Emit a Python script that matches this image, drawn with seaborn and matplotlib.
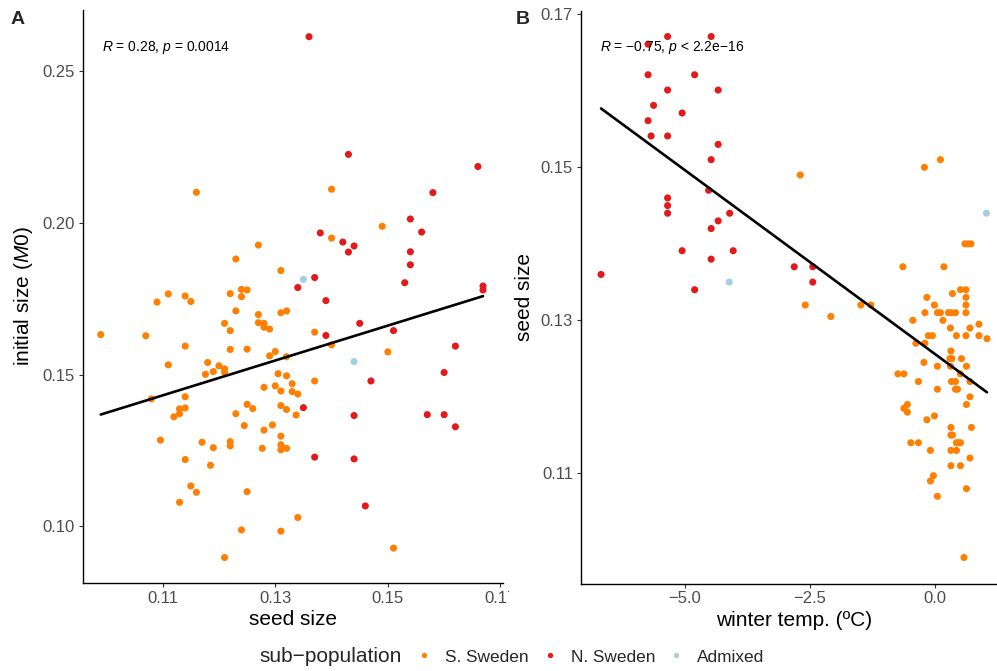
import matplotlib
matplotlib.use("Agg")
import matplotlib.pyplot as plt
import pandas as pd
import seaborn as sns
from matplotlib.lines import Line2D
from matplotlib.transforms import Bbox, TransformedBbox

# ---- Panel A: seed size vs initial size (M0) ----
seed_a = [
    0.116, 0.140, 0.127, 0.123, 0.131, 0.111, 0.114, 0.109, 0.115, 0.122,
    0.124, 0.125, 0.124, 0.123, 0.127, 0.131, 0.132, 0.127, 0.128, 0.128,
    0.129, 0.121, 0.122, 0.099, 0.107, 0.114, 0.122, 0.125, 0.129, 0.130,
    0.132, 0.111, 0.118, 0.120, 0.121, 0.121, 0.119, 0.1176, 0.1305, 0.132,
    0.149, 0.140, 0.137, 0.140, 0.150, 0.137, 0.108, 0.114, 0.113, 0.114,
    0.113, 0.112, 0.128, 0.130, 0.131, 0.133, 0.133, 0.134, 0.125, 0.126,
    0.123, 0.131, 0.132, 0.1337, 0.1245, 0.1295, 0.128, 0.131, 0.1096, 0.117,
    0.119, 0.122, 0.122, 0.1277, 0.131, 0.131, 0.132, 0.114, 0.1185, 0.115,
    0.116, 0.113, 0.125, 0.124, 0.131, 0.121, 0.134, 0.151,
    0.136, 0.143, 0.158, 0.166, 0.134, 0.154, 0.138, 0.156, 0.142, 0.144,
    0.143, 0.154, 0.154, 0.137, 0.153, 0.1669, 0.1669, 0.139, 0.145, 0.139,
    0.151, 0.162, 0.160, 0.147, 0.135, 0.144, 0.157, 0.160, 0.162, 0.137,
    0.144, 0.146,
    0.135, 0.144,
]
m0_a = [
    0.2101, 0.2111, 0.1927, 0.1881, 0.1843, 0.1766, 0.1759, 0.1739, 0.1741, 0.1767,
    0.1781, 0.1779, 0.1757, 0.1710, 0.1698, 0.1704, 0.1710, 0.1671, 0.1669, 0.1656,
    0.1650, 0.1669, 0.1645, 0.1632, 0.1628, 0.1594, 0.1583, 0.1584, 0.1562, 0.1576,
    0.1559, 0.1532, 0.1540, 0.1529, 0.1519, 0.1507, 0.1510, 0.1501, 0.1503, 0.1496,
    0.1989, 0.1950, 0.1640, 0.1598, 0.1575, 0.1479, 0.1420, 0.1427, 0.1387, 0.1390,
    0.1371, 0.1361, 0.1458, 0.1463, 0.1446, 0.1470, 0.1444, 0.1436, 0.1402, 0.1388,
    0.1371, 0.1398, 0.1385, 0.1367, 0.1332, 0.1334, 0.1317, 0.1297, 0.1284, 0.1277,
    0.1259, 0.1279, 0.1265, 0.1257, 0.1269, 0.1252, 0.1257, 0.1220, 0.1201, 0.1133,
    0.1112, 0.1079, 0.1114, 0.0988, 0.0984, 0.0897, 0.1029, 0.0928,
    0.2614, 0.2226, 0.2100, 0.2186, 0.1787, 0.2013, 0.1967, 0.1970, 0.1937, 0.1924,
    0.1904, 0.1905, 0.1862, 0.1820, 0.1803, 0.1792, 0.1779, 0.1744, 0.1669, 0.1629,
    0.1645, 0.1594, 0.1507, 0.1479, 0.1391, 0.1365, 0.1368, 0.1368, 0.1328, 0.1228,
    0.1222, 0.1067,
    0.1814, 0.1543,
]
pop_a = ["S. Sweden"] * 88 + ["N. Sweden"] * 32 + ["Admixed"] * 2

# ---- Panel B: winter temperature vs seed size ----
temp_b = [
    -5.73, -5.34, -4.47, -5.73, -4.80, -5.34, -4.33, -5.62, -5.05, -5.73,
    -5.67, -5.34, -4.33, -4.47, -4.52, -5.34, -5.34, -5.34, -4.10, -4.33,
    -4.47, -5.05, -4.03, -4.47, -6.67, -4.80, -2.81, -2.44, -2.44,
    -4.11, 1.03,
    -2.69, -2.59, -2.08, -1.48, -1.28, -0.21, 0.11, 0.60, 0.66, 0.72,
    -0.64, 0.18, 0.51, 0.62, 0.35, -0.16, 0.62, -0.01, 0.62, -0.20,
    0.05, 0.11, 0.27, 0.33, 0.41, 0.62, -0.44, 0.16, 0.31, 0.70,
    0.88, -0.13, -0.05, 0.43, 0.62, 0.88, 1.04, -0.38, -0.20, 0.32,
    0.30, 0.34, 0.53, -0.22, 0.05, 0.31, 0.63, 0.51, -0.74, -0.62,
    0.70, -0.33, 0.33, 0.41, 0.41, 0.45, 0.05, 0.70, 0.63, -0.55,
    -0.62, -0.55, -0.01, -0.16, 0.32, 0.73, 0.32, 0.35, 0.43, 0.47,
    0.51, -0.48, -0.33, -0.09, 0.32, 0.43, 0.70, 0.32, 0.51, -0.03,
    -0.09, 0.63, 0.05, 0.58,
]
seed_b = [
    0.1661, 0.1671, 0.1671, 0.1621, 0.1621, 0.1601, 0.1601, 0.1581, 0.1571, 0.1561,
    0.1541, 0.1541, 0.1530, 0.1510, 0.1470, 0.1460, 0.1450, 0.1440, 0.1440, 0.1430,
    0.1420, 0.1391, 0.1391, 0.1380, 0.1360, 0.1340, 0.1370, 0.1370, 0.1350,
    0.1350, 0.1440,
    0.1490, 0.1320, 0.1305, 0.1320, 0.1320, 0.1500, 0.1510, 0.1400, 0.1400, 0.1400,
    0.1370, 0.1370, 0.1340, 0.1340, 0.1335, 0.1330, 0.1330, 0.1320, 0.1320, 0.1310,
    0.1310, 0.1310, 0.1310, 0.1310, 0.1310, 0.1310, 0.1300, 0.1300, 0.1290, 0.1290,
    0.1295, 0.1280, 0.1280, 0.1280, 0.1280, 0.1280, 0.1276, 0.1270, 0.1270, 0.1260,
    0.1250, 0.1250, 0.1250, 0.1245, 0.1240, 0.1240, 0.1240, 0.1230, 0.1230, 0.1230,
    0.1220, 0.1220, 0.1220, 0.1220, 0.1210, 0.1210, 0.1210, 0.1200, 0.1190, 0.1190,
    0.1185, 0.1180, 0.1175, 0.1170, 0.1160, 0.1160, 0.1150, 0.1150, 0.1140, 0.1140,
    0.1140, 0.1140, 0.1140, 0.1130, 0.1130, 0.1130, 0.1120, 0.1110, 0.1110, 0.1097,
    0.1090, 0.1080, 0.1070, 0.0990,
]
pop_b = ["N. Sweden"] * 29 + ["Admixed"] * 2 + ["S. Sweden"] * 84

groups = ["S. Sweden", "N. Sweden", "Admixed"]
colors = ["#FF7F00", "#E31A1C", "#A6CEE3"]
palette = dict(zip(groups, colors))

df_a = pd.DataFrame({"seed": seed_a, "m0": m0_a, "pop": pop_a})
df_b = pd.DataFrame({"temp": temp_b, "seed": seed_b, "pop": pop_b})

sns.set_theme(style="ticks")
plt.rcParams["font.family"] = ["Liberation Sans", "DejaVu Sans"]
plt.rcParams["mathtext.fontset"] = "custom"
plt.rcParams["mathtext.rm"] = "Liberation Sans"
plt.rcParams["mathtext.it"] = "Liberation Sans:italic"
plt.rcParams["mathtext.bf"] = "Liberation Sans:bold"

W, H = 997, 671
fig = plt.figure(figsize=(W / 100, H / 100), dpi=100)


def frac_rect(x0, y0, x1, y1):
    return [x0 / W, (H - y1) / H, (x1 - x0) / W, (y1 - y0) / H]


ax_a = fig.add_axes(frac_rect(82.7, 10.0, 502.7, 583.0))
ax_b = fig.add_axes(frac_rect(581.0, 10.5, 1006.5, 583.5))

tick_col = "#4D4D4D"


def style_axes(ax):
    sns.despine(ax=ax)
    for side in ("left", "bottom"):
        ax.spines[side].set_color("black")
        ax.spines[side].set_linewidth(1.0)
    ax.tick_params(axis="both", length=3.2, width=0.8, color="#333333",
                   labelsize=12, labelcolor=tick_col, pad=2.5)


# Panel A
sns.scatterplot(data=df_a, x="seed", y="m0", hue="pop", palette=palette,
                s=26, linewidth=0, legend=False, ax=ax_a, zorder=2)
sns.regplot(data=df_a, x="seed", y="m0", scatter=False, ci=None, color="black",
            line_kws={"lw": 1.9, "zorder": 3}, ax=ax_a)
ax_a.set_xlim(0.0958, 0.1704)
ax_a.set_ylim(0.0813, 0.2702)
ax_a.set_xticks([0.11, 0.13, 0.15, 0.17])
ax_a.set_xticklabels(["0.11", "0.13", "0.15", "0.17"])
ax_a.set_yticks([0.10, 0.15, 0.20, 0.25])
ax_a.set_yticklabels(["0.10", "0.15", "0.20", "0.25"])
style_axes(ax_a)
ax_a.set_xlabel("seed size", fontsize=15, color="black", labelpad=3)
ax_a.set_ylabel("initial size ($M0$)", fontsize=15, color="black", labelpad=5)
ax_a.text(0.046, 0.934, "$R$ = 0.28, $p$ = 0.0014", transform=ax_a.transAxes,
          fontsize=10, ha="left", va="center", color="black")

# the last tick label runs into the neighbouring panel and is cut off there
clip = TransformedBbox(Bbox.from_extents(0, 0, 509 / W, 1), fig.transFigure)
last_lab = ax_a.xaxis.get_major_ticks()[-1].label1
last_lab.set_clip_box(clip)
last_lab.set_clip_on(True)

# Panel B
sns.scatterplot(data=df_b, x="temp", y="seed", hue="pop", palette=palette,
                s=26, linewidth=0, legend=False, ax=ax_b, zorder=2)
sns.regplot(data=df_b, x="temp", y="seed", scatter=False, ci=None, color="black",
            line_kws={"lw": 1.9, "zorder": 3}, ax=ax_b)
ax_b.set_xlim(-7.07, 1.43)
ax_b.set_ylim(0.0956, 0.1705)
ax_b.set_xticks([-5.0, -2.5, 0.0])
ax_b.set_xticklabels(["\u22125.0", "\u22122.5", "0.0"])
ax_b.set_yticks([0.11, 0.13, 0.15, 0.17])
ax_b.set_yticklabels(["0.11", "0.13", "0.15", "0.17"])
style_axes(ax_b)
ax_b.set_xlabel("winter temp. (ºC)", fontsize=15, color="black", labelpad=3)
ax_b.set_ylabel("seed size", fontsize=15, color="black", labelpad=5)
ax_b.text(0.0447, 0.9346, "$R$ = \u22120.75, $p$ < 2.2e\u221216",
          transform=ax_b.transAxes, fontsize=10, ha="left", va="center",
          color="black")

# Panel tags
fig.text(18 / W, 1 - 19 / H, "A", fontsize=14, fontweight="bold",
         ha="center", va="center")
fig.text(523 / W, 1 - 19 / H, "B", fontsize=14, fontweight="bold",
         ha="center", va="center")

# Shared legend along the bottom
fig.text(259 / W, 1 - 657 / H, "sub\u2212population", fontsize=15,
         ha="left", va="center")
handles = [Line2D([], [], marker="o", linestyle="none", markersize=3.8,
                  markerfacecolor=c, markeredgewidth=0) for c in colors]
fig.legend(handles, groups, loc="center left",
           bbox_to_anchor=(419 / W, 1 - 657 / H), ncol=3, frameon=False,
           fontsize=12.4, handlelength=0.6, handletextpad=0.92,
           columnspacing=0.92, borderpad=0, borderaxespad=0)

fig.savefig("out.png", dpi=100)
